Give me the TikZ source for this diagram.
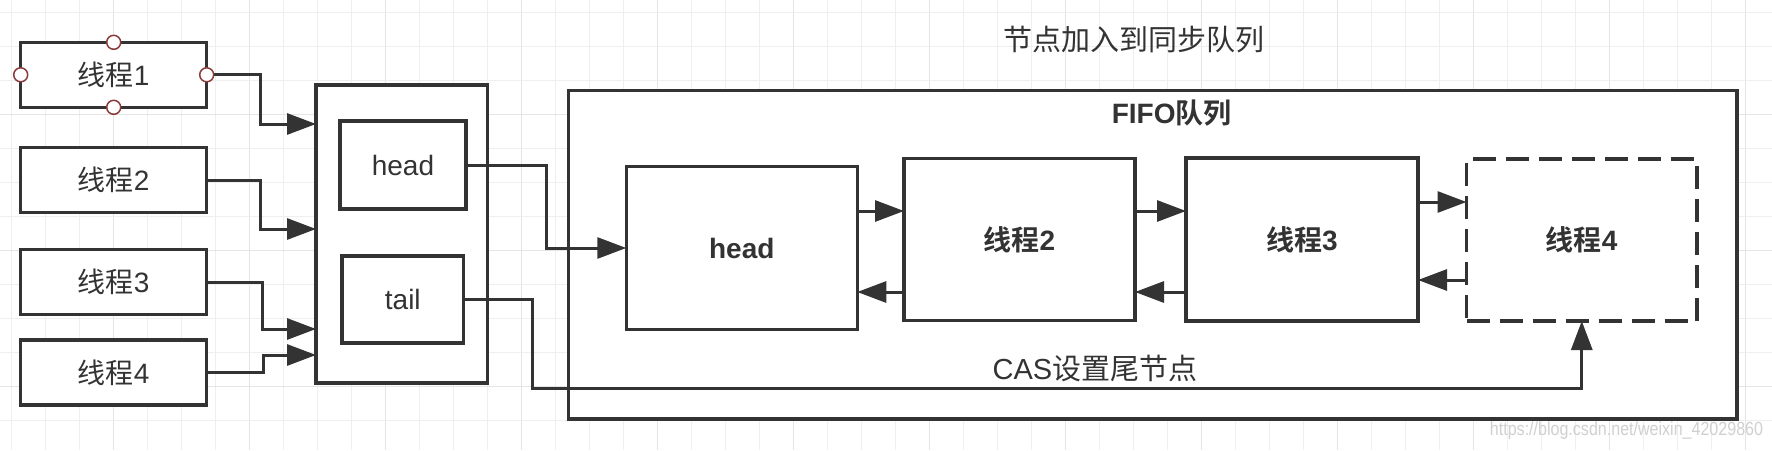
\documentclass[tikz,border=0pt]{standalone}
\usepackage{fontspec}
\setmainfont{Liberation Sans}
\newfontfamily\cjk{Noto Sans CJK SC}[BoldFont={Noto Sans CJK SC Bold}]
\usetikzlibrary{arrows.meta,calc}
\definecolor{ink}{HTML}{333333}
\definecolor{gridminor}{HTML}{EFEFEF}
\definecolor{gridmajor}{HTML}{E5E5E5}
\definecolor{handlered}{HTML}{8B3A3A}
\definecolor{wmgray}{HTML}{D0D0D0}
\begin{document}
\begin{tikzpicture}[x=1pt,y=-1pt,
  txt/.style={text=ink, font=\fontsize{28}{32}\selectfont},
  box/.style={rectangle, draw=ink, line width=3.5pt, fill=white,
    inner sep=0pt, outer sep=0pt, txt},
  threadbox/.style={box, minimum width=186pt, minimum height=65pt},
  slot/.style={box, minimum width=124pt, minimum height=88pt},
  qnode/.style={box, minimum width=231pt, minimum height=162pt},
  pending/.style={qnode, dash pattern=on 23pt off 10pt},
  conn/.style={draw=ink, line width=3pt, -{Triangle[length=29pt,width=21pt]}},
  handle/.style={circle, draw=handlered, line width=1.5pt, fill=white,
    minimum size=14pt, inner sep=0pt}]

% canvas and background grid
\fill[white] (0,0) rectangle (1772,450);
\useasboundingbox (0,0) rectangle (1772,450);
\foreach \k in {0,...,51} {
  \pgfmathtruncatemacro{\maj}{mod(\k,4)==3}
  \ifnum\maj=1 \def\gc{gridmajor}\else\def\gc{gridminor}\fi
  \draw[\gc, line width=1pt] ({11.7+34*\k},0) -- ({11.7+34*\k},450);
}
\foreach \k in {0,...,12} {
  \pgfmathtruncatemacro{\maj}{mod(\k,4)==3}
  \ifnum\maj=1 \def\gc{gridmajor}\else\def\gc{gridminor}\fi
  \draw[\gc, line width=1pt] (0,{12.3+34*\k}) -- (1772,{12.3+34*\k});
}

% threads waiting to enter
\node[threadbox] (t1) at (113.7,74.8) {{\cjk 线程}1};
\node[threadbox] (t2) at (113.7,180) {{\cjk 线程}2};
\node[threadbox] (t3) at (113.7,282) {{\cjk 线程}3};
\node[threadbox] (t4) at (113.7,372.7) {{\cjk 线程}4};

% synchronizer with head / tail references
\node[box, minimum width=171.5pt, minimum height=298pt] (sync) at (401.75,234) {};
\node[slot, minimum width=126pt] (hin) at (403,165) {head};
\node[slot, minimum width=121.6pt, minimum height=87pt] (tin) at (402.8,299.5) {tail};

% FIFO queue
\node[box, minimum width=1168.5pt, minimum height=328.3pt] (fifo) at (1152.75,254.85) {};
\node[txt, font=\fontsize{28}{32}\selectfont\bfseries] (fifolbl) at (1171.7,113) {FIFO{\cjk 队列}};
\node[qnode, minimum height=163.3pt, font=\fontsize{28}{32}\selectfont\bfseries] (fh) at (741.75,248) {head};
\node[qnode, font=\fontsize{28}{32}\selectfont\bfseries] (f2) at (1019.5,239.5) {{\cjk 线程}2};
\node[qnode, minimum width=232pt, minimum height=163pt, font=\fontsize{28}{32}\selectfont\bfseries] (f3) at (1302,239.5) {{\cjk 线程}3};
\node[pending, minimum width=230.5pt, font=\fontsize{28}{32}\selectfont\bfseries] (f4) at (1581.75,240) {{\cjk 线程}4};

% captions
\node[txt, font=\fontsize{29}{33}\selectfont] (title) at (1133.5,40) {\cjk 节点加入到同步队列};
\node[txt, font=\fontsize{29}{33}\selectfont] (cas) at (1095,369) {CAS{\cjk 设置尾节点}};
\node[text=wmgray, font=\fontsize{19}{22}\selectfont] (wm) at (1626.5,431)
  {\scalebox{0.845}[1]{https://blog.csdn.net/weixin\_42029860}};

% threads enqueue into the synchronizer
\draw[conn] (t1.east) -| (260,124) -- (sync.west |- 0,124);
\draw[conn] (t2.east) -| (260,229) -- (sync.west |- 0,229);
\draw[conn] (t3.east) -| (262,329) -- (sync.west |- 0,329);
\draw[conn] (t4.east) -| (263,355) -- (sync.west |- 0,355);

% head and tail references
\draw[conn] (hin.east) -| (546,248) -- (fh.west);
\draw[conn] (tin.east) -| (532,388) -| (f4.south);

% doubly linked queue nodes
\draw[conn] (fh.east |- 0,211) -- (f2.west |- 0,211);
\draw[conn] (f2.west |- 0,292) -- (fh.east |- 0,292);
\draw[conn] (f2.east |- 0,211) -- (f3.west |- 0,211);
\draw[conn] (f3.west |- 0,292) -- (f2.east |- 0,292);
\draw[conn] (f3.east |- 0,202) -- (f4.west |- 0,202);
\draw[conn] (f4.west |- 0,280) -- (f3.east |- 0,280);

% selection handles on the first thread
\node[handle] (hn) at (t1.north) {};
\node[handle] (hs) at (t1.south) {};
\node[handle] (hw) at (t1.west) {};
\node[handle] (he) at (t1.east) {};
\end{tikzpicture}
\end{document}
